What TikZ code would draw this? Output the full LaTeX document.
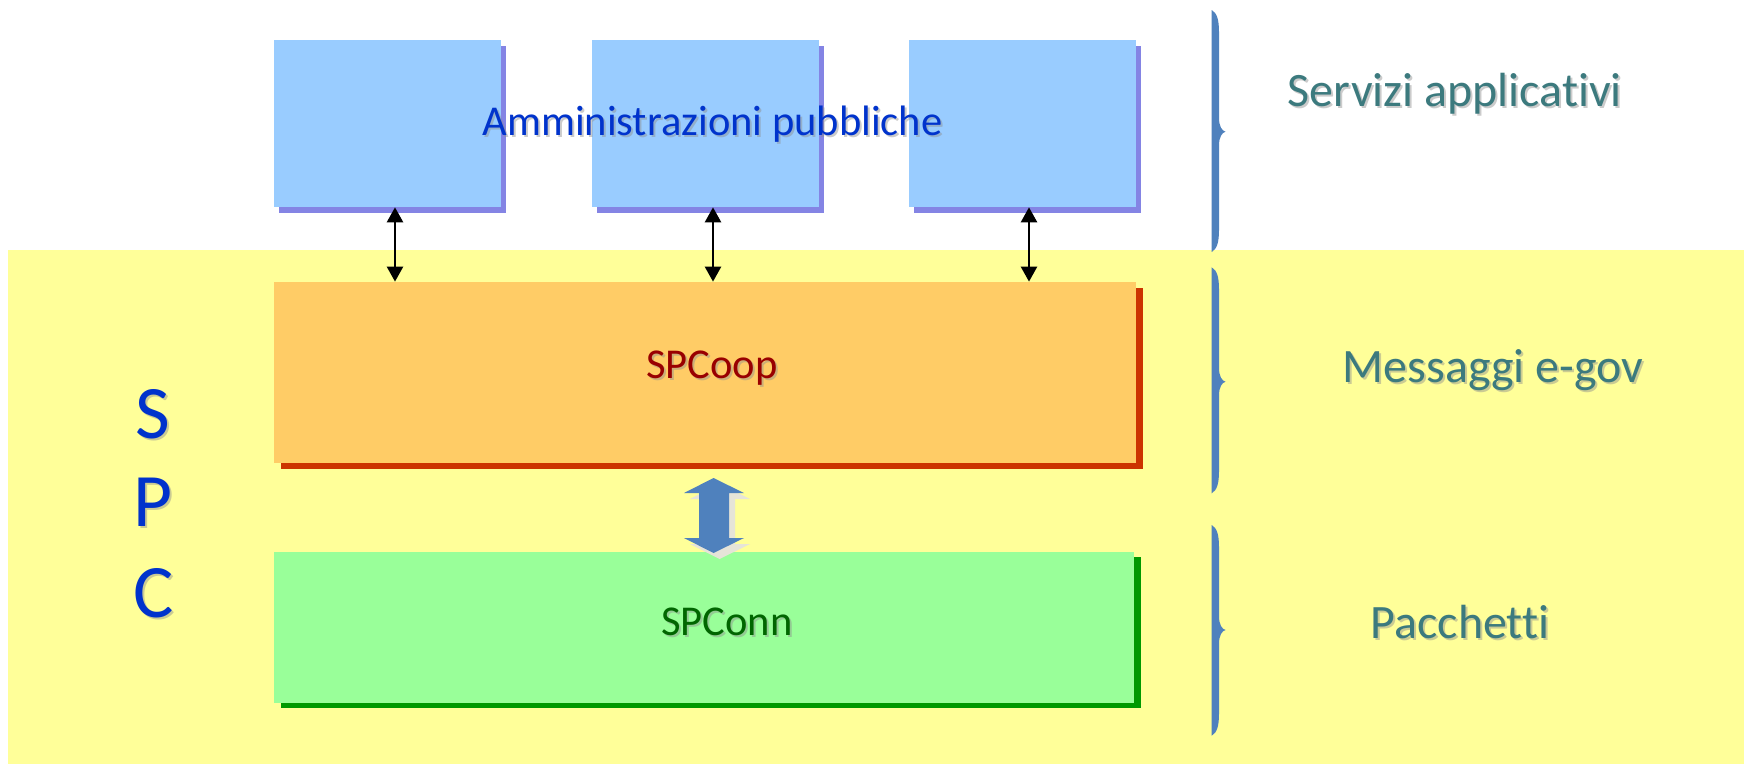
\documentclass[tikz,border=0pt]{standalone}
\usepackage{fontspec}
\setmainfont[Ligatures={NoCommon}]{Carlito}
\usetikzlibrary{shadows,arrows.meta}
\definecolor{bgyellow}{HTML}{FFFF99}
\definecolor{boxblue}{HTML}{99CCFF}
\definecolor{shblue}{HTML}{8484E4}
\definecolor{boxorange}{HTML}{FFCC66}
\definecolor{shred}{HTML}{CC3300}
\definecolor{boxgreen}{HTML}{99FF99}
\definecolor{shgreen}{HTML}{009900}
\definecolor{txtblue}{HTML}{0033CC}
\definecolor{txtteal}{HTML}{3C7A7E}
\definecolor{txtred}{HTML}{990000}
\definecolor{txtgreen}{HTML}{006600}
\definecolor{bracecol}{HTML}{4F81BD}
\definecolor{arrshadow}{HTML}{E6E4D8}
\newcommand\bracepath[3]{%
  \fill[bracecol] (1211.7,#1) .. controls (1217,#1+3) and (1219,#1+10) .. (1219,#1+22)
    -- (1219,#2-14) .. controls (1219,#2-5) and (1222,#2-1) .. (1225.5,#2)
    .. controls (1222,#2+1) and (1219,#2+5) .. (1219,#2+14)
    -- (1219,#3-22) .. controls (1219,#3-10) and (1217,#3-3) .. (1211.7,#3) -- cycle;}
\newcommand\shtext[4]{%
  \node[#2, text=black!45, opacity=0.45, xshift=0.04cm, yshift=-0.04cm] at #1 {#4};
  \node[#2] (#3) at #1 {#4};}
\begin{document}
\begin{tikzpicture}[x=0.02cm,y=-0.02cm,
  boxbase/.style={rectangle, inner sep=0, draw=none},
  bluebox/.style={boxbase, fill=boxblue, minimum width=4.54cm, minimum height=3.34cm,
    drop shadow={shadow xshift=0.1cm, shadow yshift=-0.12cm, fill=shblue, opacity=1, shadow scale=1}},
  orangebox/.style={boxbase, fill=boxorange, minimum width=17.24cm, minimum height=3.63cm,
    drop shadow={shadow xshift=0.14cm, shadow yshift=-0.12cm, fill=shred, opacity=1, shadow scale=1}},
  greenbox/.style={boxbase, fill=boxgreen, minimum width=17.22cm, minimum height=3.03cm,
    drop shadow={shadow xshift=0.14cm, shadow yshift=-0.1cm, fill=shgreen, opacity=1, shadow scale=1}},
  lbl/.style={font=\fontsize{27.3}{32}\selectfont, text=txtteal, anchor=base, inner sep=0},
  boxtxt/.style={font=\fontsize{24.2}{29}\selectfont, anchor=base, inner sep=0},
  spctxt/.style={font=\fontsize{43}{50}\selectfont, text=txtblue, anchor=base, inner sep=0},
  link/.style={line width=0.05cm, {Triangle[length=0.3cm,width=0.32cm]}-{Triangle[length=0.3cm,width=0.32cm]}}
]
% page and background
\fill[white] (0,0) rectangle (1744,764);
\useasboundingbox (0,0) rectangle (1744,764);
\fill[bgyellow] (8,250) rectangle (1744,764);

% boxes
\node[bluebox] (pa1) at (387.5,123.5) {};
\node[bluebox] (pa2) at (705.5,123.5) {};
\node[bluebox] (pa3) at (1022.5,123.5) {};
\node[orangebox] (coop) at (704.6,372.7) {};
\node[greenbox] (conn) at (704,627.3) {};

% small connectors
\coordinate (c1) at (395,0);
\coordinate (c2) at (713,0);
\coordinate (c3) at (1029,0);
\draw[link] (pa1.south -| c1) -- (coop.north -| c1);
\draw[link] (pa2.south -| c2) -- (coop.north -| c2);
\draw[link] (pa3.south -| c3) -- (coop.north -| c3);

% big up-down arrow
\fill[arrshadow, shift={(6,6)}] (713.5,478) -- (744,493) -- (729,493) -- (729,538) -- (744,538)
  -- (713.5,553) -- (684,538) -- (699,538) -- (699,493) -- (684,493) -- cycle;
\fill[bracecol] (713.5,478) -- (744,493) -- (729,493) -- (729,538) -- (744,538)
  -- (713.5,553) -- (684,538) -- (699,538) -- (699,493) -- (684,493) -- cycle;

% braces
\bracepath{10}{131.7}{252}
\bracepath{267.3}{381.7}{493.3}
\bracepath{525}{630}{735.7}

% texts
\shtext{(712.5,135.7)}{boxtxt, text=txtblue}{patxt}{Amministrazioni pubbliche}
\shtext{(712,378)}{boxtxt, text=txtred}{cooptxt}{SPCoop}
\shtext{(727,635)}{boxtxt, text=txtgreen}{conntxt}{SPConn}
\shtext{(1455,106.7)}{lbl}{l1}{Servizi applicativi}
\shtext{(1493,382.7)}{lbl}{l2}{Messaggi e-gov}
\shtext{(1460,638.3)}{lbl}{l3}{Pacchetti}
\shtext{(153,438)}{spctxt}{s1}{S}
\shtext{(153,526.7)}{spctxt}{s2}{P}
\shtext{(154,617)}{spctxt}{s3}{C}
\end{tikzpicture}
\end{document}
